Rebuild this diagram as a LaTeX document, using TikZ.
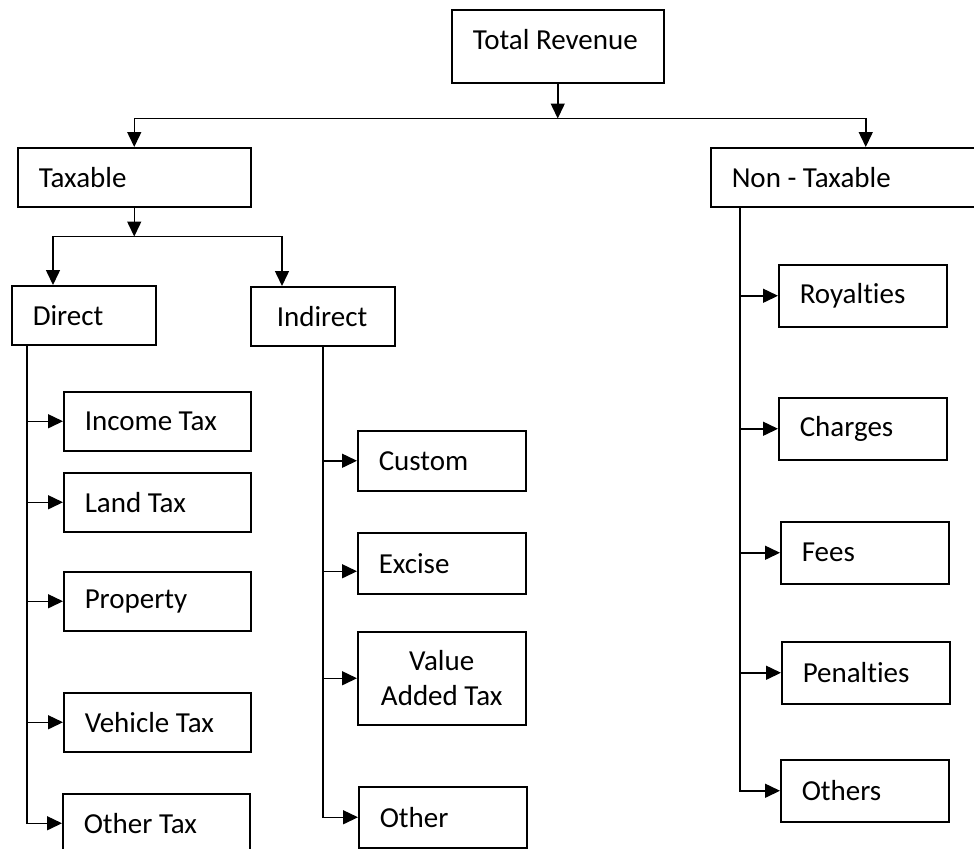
\documentclass[tikz,border=0pt]{standalone}
\usepackage{fontspec}
\setmainfont[Ligatures=NoCommon]{Carlito}
\usetikzlibrary{arrows.meta}

\begin{document}
\begin{tikzpicture}[>={Triangle[length=7.5pt,width=7pt]}, x=0.5pt, y=-0.5pt,
  line width=0.75pt, font=\fontsize{14.5pt}{17.5pt}\selectfont,
  box/.style={draw, anchor=north west, align=flush left, inner xsep=10.5pt, inner ysep=0pt,
    minimum height=29.5pt, text width=#1}]
\useasboundingbox (0,0) rectangle (974,848);

\node[box=85pt, minimum height=36.5pt, text depth=7pt] (tr) at (451,9) {Total Revenue};
\node[box=95.5pt] (tax) at (17,147) {Taxable};
\node[box=134pt] (ntax) at (710,147) {Non - Taxable};

\node[box=51pt] (dir) at (11,285) {Direct};
\node[box=46pt, inner xsep=13pt] (ind) at (250,286) {Indirect};

\node[box=72.5pt] (inc) at (63,391) {Income Tax};
\node[box=72.5pt] (land) at (63,472) {Land Tax};
\node[box=72.5pt] (prop) at (63,571) {Property};
\node[box=72.5pt] (veh) at (63,692) {Vehicle Tax};
\node[box=72.5pt] (otax) at (62,793) {Other Tax};

\node[box=63pt, minimum height=30pt] (cus) at (357,430) {Custom};
\node[box=63pt, minimum height=30.5pt] (exc) at (357,532) {Excise};
\node[box=63pt, minimum height=46.5pt, align=flush center] (vat) at (357,631) {Value\\Added Tax};
\node[box=63pt, minimum height=30.5pt] (oth) at (358,786) {Other};

\node[box=63pt, minimum height=31pt] (roy) at (778,264) {Royalties};
\node[box=63pt, minimum height=31pt] (cha) at (778,397) {Charges};
\node[box=63pt, minimum height=31pt] (fee) at (780,521) {Fees};
\node[box=63pt, minimum height=31pt] (pen) at (781,641) {Penalties};
\node[box=63pt, minimum height=31pt] (oths) at (780,759) {Others};

\draw[->] (tr.south) -- ++(0,35) coordinate (j1);
\draw[->] (j1) -| (tax);
\draw[->] (j1) -| (ntax);

\draw[->] (tax.south) -- ++(0,29) coordinate (j2);
\draw[->] (j2) -| ([xshift=21pt]dir.north west);
\draw[->] (j2) -| ([xshift=16pt]ind.north west);

\coordinate (dt) at ([xshift=8pt]dir.south west);
\draw[->] (dt) |- (otax.west);
\foreach \n in {inc,land,prop,veh}
  \draw[->] (dt |- \n.west) -- (\n.west);

\draw[->] (ind.south) |- (oth.west);
\foreach \n in {cus,vat}
  \draw[->] (ind.south |- \n.west) -- (\n.west);
\coordinate (excin) at ([yshift=-4pt]exc.west);
\draw[->] (ind.south |- excin) -- (excin);

\coordinate (nt) at ([xshift=15pt]ntax.south west);
\draw[->] (nt) |- (oths.west);
\foreach \n in {roy,cha,fee,pen}
  \draw[->] (nt |- \n.west) -- (\n.west);
\end{tikzpicture}
\end{document}
